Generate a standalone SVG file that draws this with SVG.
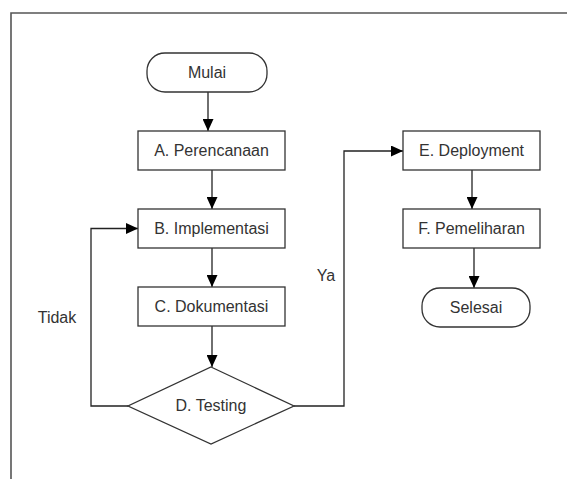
<svg xmlns="http://www.w3.org/2000/svg" width="567" height="479" viewBox="0 0 567 479">
<defs>
<marker id="arr" viewBox="0 0 12 11" refX="12" refY="5.5" markerWidth="12" markerHeight="11" markerUnits="userSpaceOnUse" orient="auto">
<path d="M0,0 L12,5.5 L0,11 Z" fill="#000"/>
</marker>
<style>
.box{fill:#fff;stroke:#333;stroke-width:1.3}
.lbl{font-family:"Liberation Sans",Arial,sans-serif;font-size:16px;fill:#333;text-anchor:middle}
.con{fill:none;stroke:#222;stroke-width:1.3;marker-end:url(#arr)}
.frame{fill:none;stroke:#555;stroke-width:1.6}
</style>
</defs>
<rect width="567" height="479" fill="#fff"/>
<path class="frame" d="M11,479 V13 H567"/>
<g id="connectors">
<path class="con" d="M208,92 V131"/>
<path class="con" d="M212,170 V209"/>
<path class="con" d="M212,248 V287"/>
<path class="con" d="M212,326 V367"/>
<path class="con" d="M128,406 H91 V228.5 H138"/>
<path class="con" d="M294,406 H344 V151 H403"/>
<path class="con" d="M472,170 V209"/>
<path class="con" d="M474,248 V288"/>
</g>
<g id="label-tidak"><text class="lbl" x="57" y="323">Tidak</text></g>
<g id="label-ya"><text class="lbl" x="326" y="281">Ya</text></g>
<g id="mulai"><rect class="box" x="147" y="53" width="120" height="39" rx="18"/><text class="lbl" x="207" y="78">Mulai</text></g>
<g id="perencanaan"><rect class="box" x="138" y="131" width="147" height="39"/><text class="lbl" x="211.5" y="156">A. Perencanaan</text></g>
<g id="implementasi"><rect class="box" x="138" y="209" width="147" height="39"/><text class="lbl" x="211.5" y="234">B. Implementasi</text></g>
<g id="dokumentasi"><rect class="box" x="138" y="287" width="147" height="39"/><text class="lbl" x="211.5" y="312">C. Dokumentasi</text></g>
<g id="testing"><polygon class="box" points="211,367 294,406 211,444 128,406"/><text class="lbl" x="211" y="411">D. Testing</text></g>
<g id="deployment"><rect class="box" x="403" y="131" width="137" height="39"/><text class="lbl" x="471.5" y="156">E. Deployment</text></g>
<g id="pemeliharaan"><rect class="box" x="403" y="209" width="137" height="39"/><text class="lbl" x="471.5" y="234">F. Pemeliharan</text></g>
<g id="selesai"><rect class="box" x="422" y="288" width="108" height="39" rx="18"/><text class="lbl" x="476" y="313">Selesai</text></g>
</svg>
